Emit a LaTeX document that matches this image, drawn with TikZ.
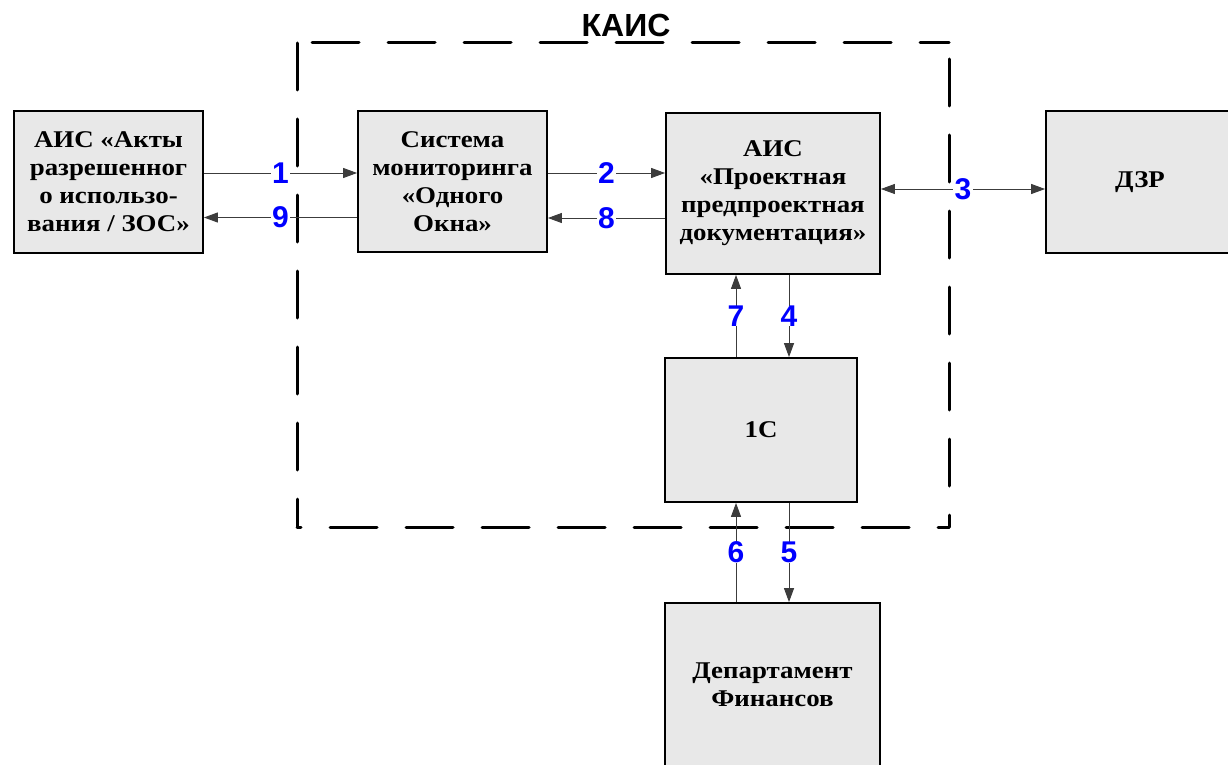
\documentclass[tikz,border=0pt]{standalone}
\usepackage{fontspec}
\setmainfont{Liberation Serif}
\newfontfamily\lsans{Liberation Sans}
\newfontfamily\boxfont[FakeStretch=1.12]{Liberation Serif}
\usetikzlibrary{arrows.meta,calc}
\definecolor{boxfill}{RGB}{232,232,232}
\definecolor{lblblue}{RGB}{0,0,255}
\definecolor{conncol}{RGB}{60,60,60}
\tikzset{
  blk/.style={draw=black, line width=1.8pt, fill=boxfill, align=center, inner sep=0pt,
    font=\boxfont\fontsize{24}{28}\selectfont\bfseries},
  conn/.style={draw=conncol, line width=1pt, -{Triangle[length=14pt,width=10pt]}},
  conn2/.style={draw=conncol, line width=1pt, {Triangle[length=14pt,width=10pt]}-{Triangle[length=14pt,width=10pt]}},
  lbl/.style={fill=white, inner xsep=1.5pt, inner ysep=0pt, text=lblblue, font=\lsans\fontsize{30}{30}\selectfont\bfseries},
  kaisbound/.style={draw=black, line width=3pt, line cap=round, dash pattern=on 47pt off 29pt}
}
\begin{document}
\begin{tikzpicture}[x=1pt,y=-1pt]
\useasboundingbox (0,0) rectangle (1228,765);
\clip (0,0) rectangle (1228,765);
\fill[white] (0,0) rectangle (1228,765);

% dashed KAIS frame
\coordinate (ftl) at (297,43);
\coordinate (ftr) at (949,43);
\coordinate (fbr) at (949,527);
\coordinate (fbl) at (297,527);
\draw[kaisbound, dash phase=61pt] (ftl) -- (ftr);
\draw[kaisbound] (ftl) -- (fbl);
\draw[kaisbound, dash phase=43pt] (fbl) -- (fbr);
\draw[kaisbound, dash phase=60pt] (ftr) -- (fbr);
\node[font=\lsans\fontsize{32}{32}\selectfont\bfseries, inner sep=0pt] (kais) at (626,25) {КАИС};

% boxes
\node[blk, minimum width=189pt, minimum height=142pt] (akty) at (108.5,182)
  {АИС «Акты\\разрешенног\\о использо-\\вания / ЗОС»};
\node[blk, minimum width=189pt, minimum height=141pt] (mon) at (452.5,181.5)
  {Система\\мониторинга\\«Одного\\Окна»};
\node[blk, minimum width=214pt, minimum height=161pt] (proj) at (773,193.5)
  {АИС\\«Проектная\\предпроектная\\документация»};
\node[blk, minimum width=188pt, minimum height=142pt] (dzr) at (1140,182) {ДЗР};
\node[blk, minimum width=192pt, minimum height=144pt] (onec) at (761,430) {1С};
\node[blk, minimum width=215pt, minimum height=163pt] (dep) at (772.5,684.5)
  {Департамент\\Финансов};

% connectors
\draw[conn] ([yshift=9pt]akty.east) -- node[lbl]{1} ([yshift=9pt]akty.east -| mon.west);
\draw[conn] ([yshift=-36pt]mon.west) -- node[lbl]{9} ([yshift=-36pt]mon.west -| akty.east);
\draw[conn] ([yshift=8.5pt]mon.east) -- node[lbl]{2} ([yshift=8.5pt]mon.east -| proj.west);
\draw[conn] ([yshift=-24.5pt]proj.west) -- node[lbl]{8} ([yshift=-24.5pt]proj.west -| mon.east);
\draw[conn2] ([yshift=4.5pt]proj.east) -- node[lbl]{3} ([yshift=4.5pt]proj.east -| dzr.west);
\draw[conn] ([xshift=-25pt]onec.north) -- node[lbl]{7} ([xshift=-25pt]onec.north |- proj.south);
\draw[conn] ([xshift=28pt]onec.north |- proj.south) -- node[lbl]{4} ([xshift=28pt]onec.north);
\draw[conn] ([xshift=-25pt]onec.south |- dep.north) -- node[lbl]{6} ([xshift=-25pt]onec.south);
\draw[conn] ([xshift=28pt]onec.south) -- node[lbl]{5} ([xshift=28pt]onec.south |- dep.north);
\end{tikzpicture}
\end{document}
